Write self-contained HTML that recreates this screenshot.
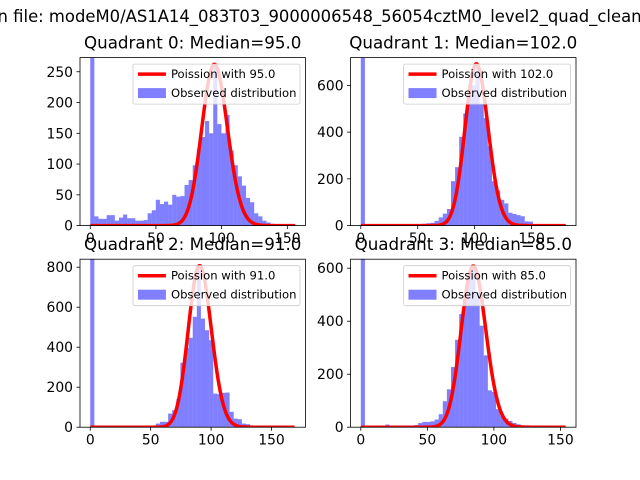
<!DOCTYPE html>
<html><head><meta charset="utf-8">
<style>
html,body{margin:0;padding:0;background:#fff;width:640px;height:480px;overflow:hidden;}
svg{display:block;font-family:"DejaVu Sans","Liberation Sans",sans-serif;}
</style></head>
<body>
<svg id="fig" width="640" height="480" viewBox="0 0 640 480">
<rect width="640" height="480" fill="#fff"/>
<text x="-7" y="22" font-size="16.7" textLength="680" lengthAdjust="spacingAndGlyphs" fill="#000">in file: modeM0/AS1A14_083T03_9000006548_56054cztM0_level2_quad_clean.evt</text>
</svg>
<script>
// Panel titles / medians
const titles = ["Quadrant 0: Median=95.0","Quadrant 1: Median=102.0","Quadrant 2: Median=91.0","Quadrant 3: Median=85.0"];
const lambdas = [95.0, 102.0, 91.0, 85.0];
const poissonPeaks = [262, 692, 807, 608];
const dataMax = [156, 180, 169.6, 154];
const yMax = [273, 719, 840, 634];
const xTicks = [[0,50,100,150],[0,50,100,150],[0,50,100,150],[0,50,100,150]];
const yTicks = [[0,50,100,150,200,250],[0,200,400,600],[0,200,400,600,800],[0,200,400,600]];
// Histogram counts (50 bins each, from 0 to dataMax)
const counts0 = [1200,15,11,11,17,17,8,13,18,12,12,8,8,9,20,25,42,35,39,34,50,47,48,66,74,98,124,144,170,150,262,165,150,180,122,98,80,65,45,38,20,15,8,5,3,2,2,1,1,1];
const counts1 = [2000,2,2,3,2,3,3,2,4,3,4,5,4,5,5,8,10,12,20,35,51,71,190,250,380,480,560,600,690,520,460,340,190,150,110,95,55,50,45,40,18,17,5,4,3,2,2,1,1,1];
const counts2 = [2000,1,1,1,1,1,2,1,2,2,2,3,3,4,5,8,18,27,27,68,85,140,322,397,447,552,790,543,485,435,168,165,172,173,77,43,40,18,15,7,4,3,2,2,1,1,1,1,1,1];
const counts3 = [2000,1,1,2,3,4,10,3,3,2,2,3,4,8,16,20,20,22,29,49,98,143,227,330,427,496,565,603,508,383,271,139,133,68,43,33,24,16,11,7,4,3,2,2,1,1,1,1,0,1];
const allCounts = [counts0, counts1, counts2, counts3];

const NS = "http://www.w3.org/2000/svg";
const svg = document.getElementById('fig');
function mk(tag, attrs, parent){
  const e = document.createElementNS(NS, tag);
  for (const k in attrs) e.setAttribute(k, attrs[k]);
  (parent||svg).appendChild(e);
  return e;
}
const axW = 225.45, axH = 168;
const lefts = [80, 350.55, 80, 350.55];
const tops = [57.6, 57.6, 259.2, 259.2];

function logFact(n){ let s=0; for(let i=2;i<=n;i++) s+=Math.log(i); return s; }
function pmf(k, lam){ return Math.exp(k*Math.log(lam) - lam - logFact(k)); }

for (let p=0;p<4;p++){
  const L=lefts[p], T=tops[p];
  const xmin = -0.05*dataMax[p], xmax = dataMax[p]*1.05;
  const xs = v => L + (v - xmin)/(xmax - xmin)*axW;
  const ys = v => T + axH - v/yMax[p]*axH;
  const g = mk('g', {});
  
  
  const clipId = 'clip'+p;
  const cp = mk('clipPath', {id: clipId}, g);
  mk('rect', {x:L, y:T, width:axW, height:axH}, cp);
  const plot = mk('g', {'clip-path':'url(#'+clipId+')'}, g);
  // histogram
  const c = allCounts[p], bw = dataMax[p]/c.length;
  for (let i=0;i<c.length;i++){
    const x0 = xs(i*bw), x1 = xs((i+1)*bw);
    const r = mk('rect', {x:x0, y:ys(c[i]), width:x1-x0, height:ys(0)-ys(c[i]), fill:'#0000ff', 'fill-opacity':0.5}, plot);
    
    
  }
  // Poisson curve (on top)
  const lam = lambdas[p], peak = pmf(Math.round(lam), lam);
  let d = '';
  for (let k=0;k<=Math.floor(dataMax[p]);k++){
    const v = poissonPeaks[p]*pmf(k,lam)/peak;
    d += (k===0?'M':'L') + xs(k).toFixed(2) + ',' + ys(v).toFixed(2);
  }
  const line = mk('path', {d:d, fill:'none', stroke:'#ff0000', 'stroke-width':3.5, 'stroke-linejoin':'round'}, plot);
  
  
  // spines
  mk('rect', {x:L, y:T, width:axW, height:axH, fill:'none', stroke:'#000', 'stroke-width':0.8}, g);
  // x ticks
  xTicks[p].forEach(t=>{
    const x = xs(t);
    mk('line', {x1:x, x2:x, y1:T+axH, y2:T+axH+3.5, stroke:'#000', 'stroke-width':0.8}, g);
    const tx = mk('text', {x:x, y:T+axH+17.5, 'font-size':13.9, 'text-anchor':'middle'}, g);
    tx.textContent = t;
    
    
  });
  yTicks[p].forEach(t=>{
    const y = ys(t);
    mk('line', {x1:L-3.5, x2:L, y1:y, y2:y, stroke:'#000', 'stroke-width':0.8}, g);
    const ty = mk('text', {x:L-7, y:y+5, 'font-size':13.9, 'text-anchor':'end'}, g);
    ty.textContent = t;
    
    
  });
  // title
  const tt = mk('text', {x:L+axW/2, y:T-9, 'font-size':16.7, 'text-anchor':'middle'}, g);
  tt.textContent = titles[p];
  
  
  // legend
  const lg = mk('g', {}, g);
  
  
  const bx = L+axW-172.5, by = T+6.5;
  mk('rect', {x:bx, y:by, width:167, height:40, rx:2, fill:'#fff', 'fill-opacity':0.8, stroke:'#cccccc', 'stroke-width':0.8}, lg);
  mk('line', {x1:bx+5, x2:bx+33, y1:by+10, y2:by+10, stroke:'#ff0000', 'stroke-width':3.5}, lg);
  const t1 = mk('text', {x:bx+38, y:by+14, 'font-size':11.6}, lg);
  t1.textContent = 'Poission with '+lambdas[p].toFixed(1);
  
  
  mk('rect', {x:bx+5, y:by+24, width:28, height:10, fill:'#0000ff', 'fill-opacity':0.5}, lg);
  const t2 = mk('text', {x:bx+38, y:by+33, 'font-size':11.6}, lg);
  t2.textContent = 'Observed distribution';
  
  
}
</script>
</body></html>
